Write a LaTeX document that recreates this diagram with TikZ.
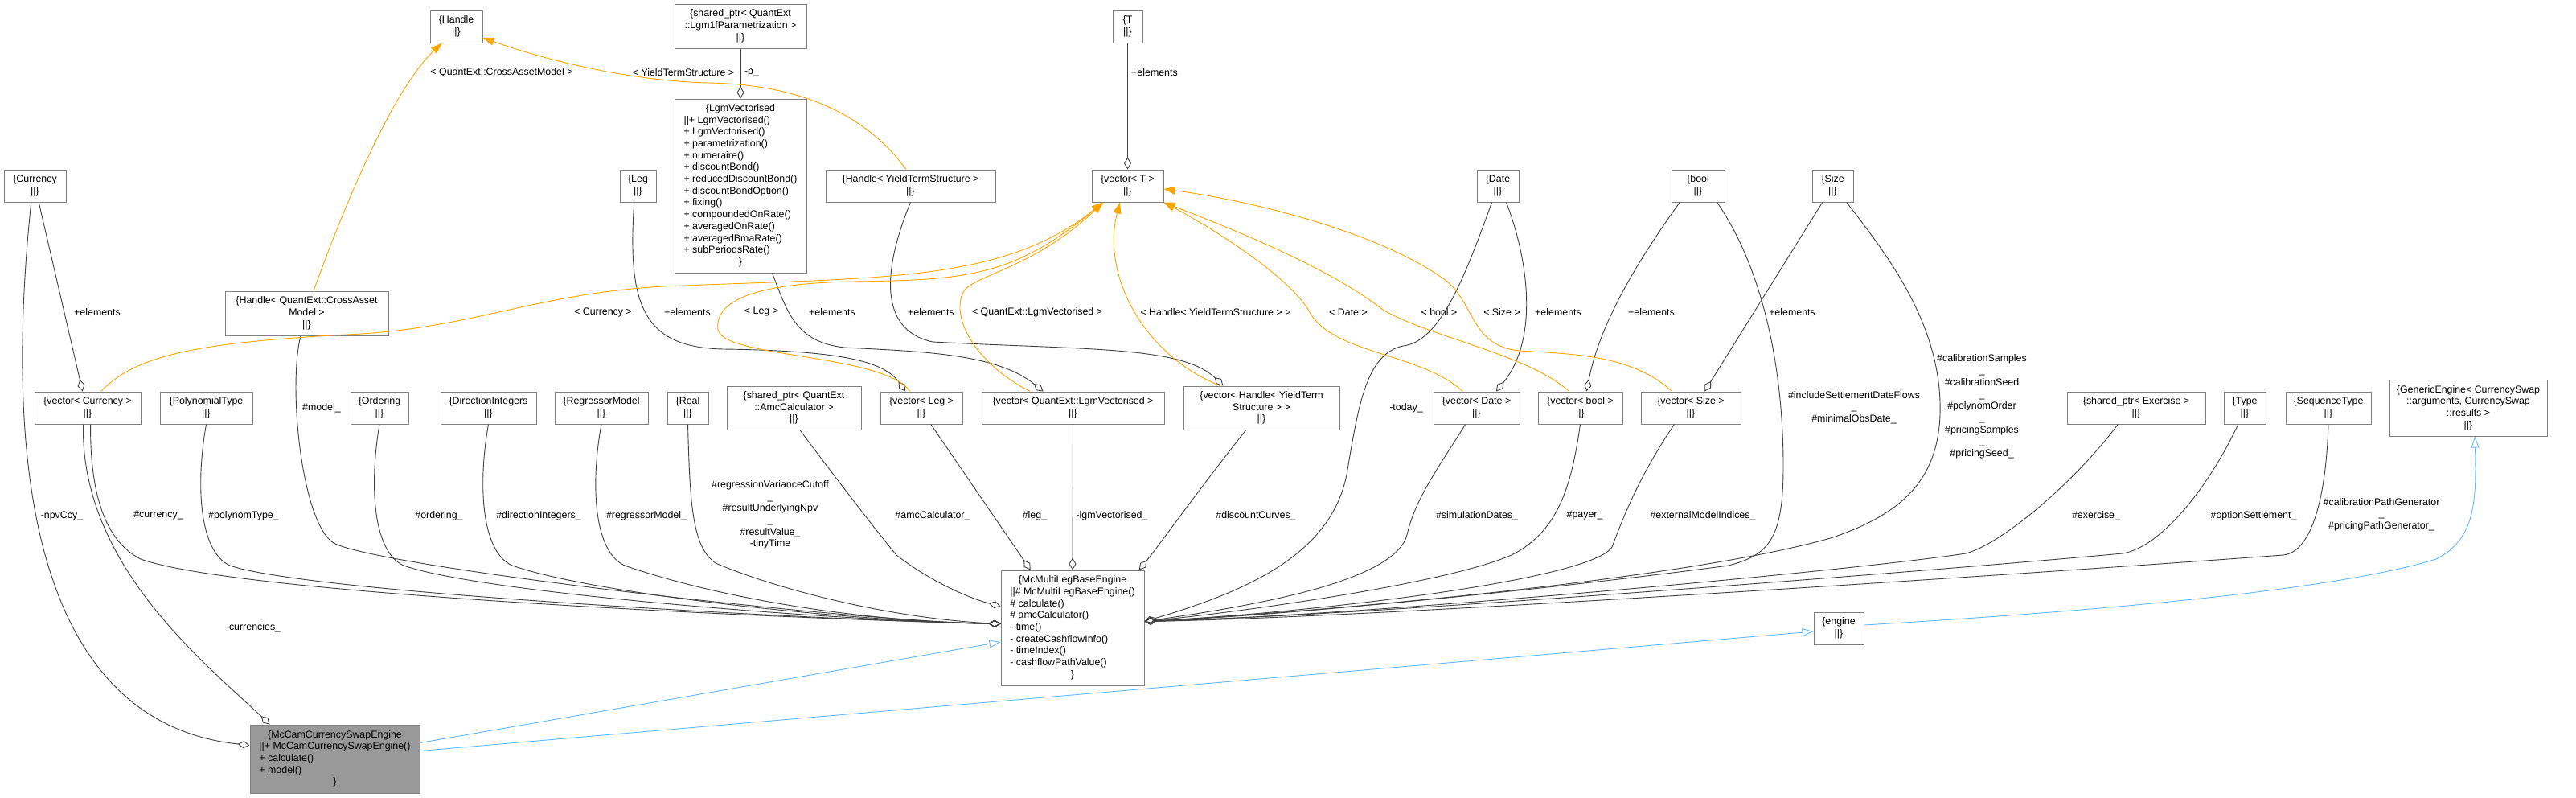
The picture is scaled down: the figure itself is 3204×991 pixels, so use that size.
\documentclass[tikz,border=0pt]{standalone}
\usepackage{fontspec}
\setmainfont{Liberation Sans}
\usepackage{tikz}
\usetikzlibrary{arrows.meta}
\newcommand{\dxfont}{\fontsize{12.4}{14.7}\selectfont}
\definecolor{edgegrey}{HTML}{404040}
\definecolor{boxgrey}{HTML}{808080}
\definecolor{mainfill}{HTML}{999999}
\definecolor{tmplorange}{HTML}{FFA500}
\definecolor{inhblue}{HTML}{63B8FF}

\begin{document}
\begin{tikzpicture}[
x=1pt, y=-1pt,
box/.style={rectangle, draw=boxgrey, line width=1pt, fill=white, inner sep=0pt, font=\dxfont, align=center},
mainbox/.style={box, fill=mainfill},
lbl/.style={font=\dxfont, inner sep=0pt, align=center},
member/.style={-{Diamond[open, length=15pt, width=9pt]}, draw=edgegrey, line width=0.9pt},
tmpl/.style={-{Triangle[length=14pt, width=10pt]}, draw=tmplorange, line width=0.9pt},
inherit/.style={-{Triangle[open, length=14pt, width=10pt]}, draw=inhblue, line width=0.9pt}
]
    \useasboundingbox (0,0) rectangle (3204,991);

    % top rows
    \node[box, minimum width=65pt, minimum height=40pt] (handle) at (567.5,33) {\{Handle\\||\}};
    \node[box, minimum width=164pt, minimum height=55pt] (lgmparam) at (921,32.5) {\{shared\_ptr< QuantExt\\::Lgm1fParametrization >\\||\}};
    \node[box, minimum width=164pt, minimum height=216pt] (lgmvec) at (921,231) {\begin{tabular}{@{}l@{}}
        \multicolumn{1}{@{}c@{}}{\{LgmVectorised}\\
        ||+ LgmVectorised()\\
        + LgmVectorised()\\
        + parametrization()\\
        + numeraire()\\
        + discountBond()\\
        + reducedDiscountBond()\\
        + discountBondOption()\\
        + fixing()\\
        + compoundedOnRate()\\
        + averagedOnRate()\\
        + averagedBmaRate()\\
        + subPeriodsRate()\\
        \multicolumn{1}{@{}c@{}}{\}}
    \end{tabular}};
    \node[box, minimum width=37pt, minimum height=40pt] (tnode) at (1402.5,33) {\{T\\||\}};
    \node[box, minimum width=77pt, minimum height=40pt] (currency) at (43.5,231) {\{Currency\\||\}};
    \node[box, minimum width=45pt, minimum height=40pt] (leg) at (793.5,231) {\{Leg\\||\}};
    \node[box, minimum width=211pt, minimum height=40pt] (handleyts) at (1132.5,231) {\{Handle< YieldTermStructure >\\||\}};
    \node[box, minimum width=89pt, minimum height=40pt] (vect) at (1402.5,231) {\{vector< T >\\||\}};
    \node[box, minimum width=52pt, minimum height=40pt] (date) at (1863,231) {\{Date\\||\}};
    \node[box, minimum width=66pt, minimum height=40pt] (boolnode) at (2112,231) {\{bool\\||\}};
    \node[box, minimum width=51pt, minimum height=40pt] (sizenode) at (2279.5,231) {\{Size\\||\}};
    \node[box, minimum width=203pt, minimum height=55pt] (handlecam) at (381.5,389.5) {\{Handle< QuantExt::CrossAsset\\Model >\\||\}};

    % member row
    \node[box, minimum width=132pt, minimum height=40pt] (veccur) at (109,507) {\{vector< Currency >\\||\}};
    \node[box, minimum width=115pt, minimum height=40pt] (polytype) at (256.5,507) {\{PolynomialType\\||\}};
    \node[box, minimum width=72pt, minimum height=40pt] (ordering) at (472,507) {\{Ordering\\||\}};
    \node[box, minimum width=119pt, minimum height=40pt] (dirint) at (607.5,507) {\{DirectionIntegers\\||\}};
    \node[box, minimum width=116pt, minimum height=40pt] (regmodel) at (748,507) {\{RegressorModel\\||\}};
    \node[box, minimum width=51pt, minimum height=40pt] (real) at (855.5,507) {\{Real\\||\}};
    \node[box, minimum width=167pt, minimum height=54pt] (amccalc) at (987.5,507) {\{shared\_ptr< QuantExt\\::AmcCalculator >\\||\}};
    \node[box, minimum width=102pt, minimum height=40pt] (vecleg) at (1146,507) {\{vector< Leg >\\||\}};
    \node[box, minimum width=227pt, minimum height=40pt] (veclgm) at (1334.5,507) {\{vector< QuantExt::LgmVectorised >\\||\}};
    \node[box, minimum width=194pt, minimum height=54pt] (vechandle) at (1569,507) {\{vector< Handle< YieldTerm\\Structure > >\\||\}};
    \node[box, minimum width=107pt, minimum height=40pt] (vecdate) at (1836.5,507) {\{vector< Date >\\||\}};
    \node[box, minimum width=105pt, minimum height=40pt] (vecbool) at (1965.5,507) {\{vector< bool >\\||\}};
    \node[box, minimum width=124pt, minimum height=40pt] (vecsize) at (2103,507) {\{vector< Size >\\||\}};
    \node[box, minimum width=172pt, minimum height=40pt] (exercise) at (2657,507) {\{shared\_ptr< Exercise >\\||\}};
    \node[box, minimum width=52pt, minimum height=40pt] (typenode) at (2792,507) {\{Type\\||\}};
    \node[box, minimum width=106pt, minimum height=40pt] (seqtype) at (2896,507) {\{SequenceType\\||\}};
    \node[box, minimum width=196pt, minimum height=70pt] (generic) at (3070,507) {\{GenericEngine< CurrencySwap\\::arguments, CurrencySwap\\::results >\\||\}};

    % engines
    \node[box, minimum width=178pt, minimum height=143pt] (mcmulti) at (1334,780.5) {\begin{tabular}{@{}l@{}}
        \multicolumn{1}{@{}c@{}}{\{McMultiLegBaseEngine}\\
        ||\# McMultiLegBaseEngine()\\
        \# calculate()\\
        \# amcCalculator()\\
        - time()\\
        - createCashflowInfo()\\
        - timeIndex()\\
        - cashflowPathValue()\\
        \multicolumn{1}{@{}c@{}}{\}}
    \end{tabular}};
    \node[box, minimum width=62pt, minimum height=40pt] (engine) at (2287,781) {\{engine\\||\}};
    \node[mainbox, minimum width=211pt, minimum height=85pt] (mccam) at (416.5,943.5) {\begin{tabular}{@{}l@{}}
        \multicolumn{1}{@{}c@{}}{\{McCamCurrencySwapEngine}\\
        ||+ McCamCurrencySwapEngine()\\
        + calculate()\\
        + model()\\
        \multicolumn{1}{@{}c@{}}{\}}
    \end{tabular}};

    % members of McCamCurrencySwapEngine
    \draw[member] (currency.257) .. controls (0,620) and (60,900) .. ([yshift=17pt]mccam.west);
    \draw[member] (veccur.255) .. controls (100,700) and (250,820) .. (mccam.152);

    % members of McMultiLegBaseEngine, left side
    \draw[member] (veccur.280) .. controls (112,600) and (125,670) .. (175,695) .. controls (300,740) and (1000,770) .. ([yshift=5pt]mcmulti.west);
    \draw[member] (polytype.south) .. controls (244,597) and (246,685) .. (286,703) .. controls (386,738) and (1050,772) .. ([yshift=5pt]mcmulti.west);
    \draw[member] (handlecam.255) .. controls (358,480) and (375,650) .. (415,675) .. controls (470,705) and (1050,772) .. ([yshift=5pt]mcmulti.west);
    \draw[member] (ordering.south) .. controls (460,597) and (462,685) .. (502,703) .. controls (602,738) and (1050,772) .. ([yshift=5pt]mcmulti.west);
    \draw[member] (dirint.south) .. controls (595,597) and (597,685) .. (637,703) .. controls (737,738) and (1050,772) .. ([yshift=5pt]mcmulti.west);
    \draw[member] (regmodel.south) .. controls (735,597) and (737,685) .. (777,703) .. controls (877,738) and (1050,772) .. ([yshift=5pt]mcmulti.west);
    \draw[member] (real.south) .. controls (858,620) and (860,680) .. (890,700) .. controls (960,730) and (1100,768) .. ([yshift=5pt]mcmulti.west);
    \draw[member] (amccalc.285) .. controls (1040,595) and (1090,660) .. (1115,690) .. controls (1160,725) and (1210,745) .. ([yshift=27pt]mcmulti.west);

    % top side
    \draw[member] (vecleg.300) -- (mcmulti.126);
    \draw[member] (veclgm.south) -- (mcmulti.north);
    \draw[member] (vechandle.235) .. controls (1490,610) and (1440,680) .. (mcmulti.41);

    % right side
    \draw[member] (date.250) .. controls (1820,350) and (1790,425) .. (1745,430) .. controls (1700,440) and (1690,500) .. (1675,590) .. controls (1655,690) and (1550,735) .. ([yshift=8pt]mcmulti.east);
    \draw[member] (vecdate.236) .. controls (1790,580) and (1760,620) .. (1750,665) .. controls (1735,720) and (1580,750) .. ([yshift=8pt]mcmulti.east);
    \draw[member] (vecbool.south) .. controls (1955,600) and (1940,660) .. (1880,690) .. controls (1800,725) and (1550,760) .. ([yshift=8pt]mcmulti.east);
    \draw[member] (vecsize.225) .. controls (2040,590) and (2020,640) .. (2005,680) .. controls (1980,720) and (1650,760) .. ([yshift=8pt]mcmulti.east);
    \draw[member] (boolnode.319) .. controls (2190,330) and (2218,450) .. (2218,580) .. controls (2218,670) and (2200,690) .. (2150,703) .. controls (1950,730) and (1600,765) .. ([yshift=8pt]mcmulti.east);
    \draw[member] (sizenode.310) .. controls (2350,320) and (2410,400) .. (2413,500) .. controls (2416,600) and (2360,640) .. (2280,668) .. controls (2100,720) and (1650,760) .. ([yshift=8pt]mcmulti.east);
    \draw[member] (exercise.222) .. controls (2580,600) and (2490,676) .. (2445,688) .. controls (2300,710) and (1700,765) .. ([yshift=8pt]mcmulti.east);
    \draw[member] (typenode.248) .. controls (2750,600) and (2690,680) .. (2640,688) .. controls (2400,710) and (1700,765) .. ([yshift=8pt]mcmulti.east);
    \draw[member] (seqtype.south) .. controls (2893,620) and (2875,686) .. (2840,690) .. controls (2500,715) and (1700,768) .. ([yshift=8pt]mcmulti.east);

    % elements of the vectors
    \draw[member] (currency.283) -- (veccur.107);
    \draw[member] (leg.257) .. controls (780,380) and (800,432) .. (900,434) .. controls (1050,436) and (1100,450) .. (vecleg.134);
    \draw[member] (lgmvec.290) .. controls (980,390) and (990,425) .. (1050,432) .. controls (1150,437) and (1240,440) .. (veclgm.151);
    \draw[member] (handleyts.south) .. controls (1100,330) and (1090,410) .. (1160,425) .. controls (1350,435) and (1470,430) .. (vechandle.150);
    \draw[member] (tnode) -- (vect);
    \draw[member] (date.297) .. controls (1900,320) and (1915,420) .. (vecdate.40);
    \draw[member] (boolnode.222) .. controls (2040,320) and (1990,400) .. (vecbool.69);
    \draw[member] (sizenode.238) -- (vecsize.50);
    \draw[member] (lgmparam) -- (lgmvec);

    % template instances
    \draw[tmpl] (handlecam.73) .. controls (430,250) and (490,110) .. (handle.229);
    \draw[tmpl] (handleyts.105) .. controls (1090,160) and (1020,105) .. (880,103) .. controls (780,100) and (680,75) .. (handle.337);
    \draw[tmpl] (veccur.51) .. controls (170,440) and (250,425) .. (450,415) .. controls (600,405) and (680,360) .. (850,355) .. controls (1100,345) and (1250,350) .. (vect.214);
    \draw[tmpl] (vecleg.125) .. controls (1100,440) and (900,445) .. (893,410) .. controls (888,370) and (950,352) .. (1060,350) .. controls (1200,348) and (1260,345) .. (vect.214);
    \draw[tmpl] (veclgm.159) .. controls (1210,450) and (1180,390) .. (1200,360) .. controls (1220,340) and (1290,330) .. (vect.214);
    \draw[tmpl] (vechandle.152) .. controls (1420,440) and (1370,340) .. (vect.245);
    \draw[tmpl] (vecdate.130) .. controls (1770,440) and (1660,440) .. (1630,390) .. controls (1610,350) and (1520,290) .. (vect.south east);
    \draw[tmpl] (vecbool.124) .. controls (1900,440) and (1780,420) .. (1720,385) .. controls (1650,330) and (1520,280) .. (vect.south east);
    \draw[tmpl] (vecsize.139) .. controls (2030,440) and (1950,440) .. (1890,436) .. controls (1830,430) and (1835,380) .. (1800,350) .. controls (1720,290) and (1560,250) .. (vect.355);

    % inheritance
    \draw[inherit] ([yshift=20pt]mccam.east) -- ([yshift=-17.5pt]mcmulti.west);
    \draw[inherit] ([yshift=10pt]mccam.east) -- ([yshift=-4pt]engine.west);
    \draw[inherit] ([yshift=4pt]engine.east) .. controls (2600,760) and (2900,735) .. (3030,695) .. controls (3080,670) and (3080,620) .. (generic.283);

    % labels
    \node[lbl] (lnpv) at (77,641) {-npvCcy\_};
    \node[lbl] (lcurrencies) at (315,780) {-currencies\_};
    \node[lbl] (lcurrency) at (197,641) {\#currency\_};
    \node[lbl] (lpoly) at (303,641) {\#polynomType\_};
    \node[lbl] (lmodel) at (400,507) {\#model\_};
    \node[lbl] (lordering) at (546,641) {\#ordering\_};
    \node[lbl] (ldirint) at (670,641) {\#directionIntegers\_};
    \node[lbl] (lregmodel) at (804,641) {\#regressorModel\_};
    \node[lbl] (lreal) at (958,640) {\#regressionVarianceCutoff\\\_\\\#resultUnderlyingNpv\\\_\\\#resultValue\_\\-tinyTime};
    \node[lbl] (lamc) at (1160,641) {\#amcCalculator\_};
    \node[lbl] (lleg) at (1287,641) {\#leg\_};
    \node[lbl] (llgm) at (1383,641) {-lgmVectorised\_};
    \node[lbl] (ldisc) at (1562,641) {\#discountCurves\_};
    \node[lbl] (ltoday) at (1749,507) {-today\_};
    \node[lbl] (lsimdates) at (1837,641) {\#simulationDates\_};
    \node[lbl] (lpayer) at (1971,641) {\#payer\_};
    \node[lbl] (lextidx) at (2118,641) {\#externalModelIndices\_};
    \node[lbl] (lbool) at (2306,506.5) {\#includeSettlementDateFlows\\\_\\\#minimalObsDate\_};
    \node[lbl] (lsize) at (2465,505.5) {\#calibrationSamples\\\_\\\#calibrationSeed\\\_\\\#polynomOrder\\\_\\\#pricingSamples\\\_\\\#pricingSeed\_};
    \node[lbl] (lexercise) at (2607,641) {\#exercise\_};
    \node[lbl] (lsettle) at (2803,641) {\#optionSettlement\_};
    \node[lbl] (lseq) at (2962,639.5) {\#calibrationPathGenerator\\\_\\\#pricingPathGenerator\_};
    \node[lbl] (lelcur) at (121,388) {+elements};
    \node[lbl] (lelleg) at (855,388) {+elements};
    \node[lbl] (lellgm) at (1035,388) {+elements};
    \node[lbl] (lelyts) at (1158,388) {+elements};
    \node[lbl] (lelt) at (1436,90) {+elements};
    \node[lbl] (leldate) at (1938,388) {+elements};
    \node[lbl] (lelbool) at (2054,388) {+elements};
    \node[lbl] (lelsize) at (2229,388) {+elements};
    \node[lbl] (lp) at (935,90) {-p\_};
    \node[lbl] (ltcam) at (624,90) {< QuantExt::CrossAssetModel >};
    \node[lbl] (ltyts) at (850,90) {< YieldTermStructure >};
    \node[lbl] (ltcur) at (750,388) {< Currency >};
    \node[lbl] (ltleg) at (947,388) {< Leg >};
    \node[lbl] (ltlgm) at (1290,388) {< QuantExt::LgmVectorised >};
    \node[lbl] (lthandle) at (1512,388) {< Handle< YieldTermStructure > >};
    \node[lbl] (ltdate) at (1677,388) {< Date >};
    \node[lbl] (ltbool) at (1790,388) {< bool >};
    \node[lbl] (ltsize) at (1868,388) {< Size >};

\end{tikzpicture}
\end{document}
